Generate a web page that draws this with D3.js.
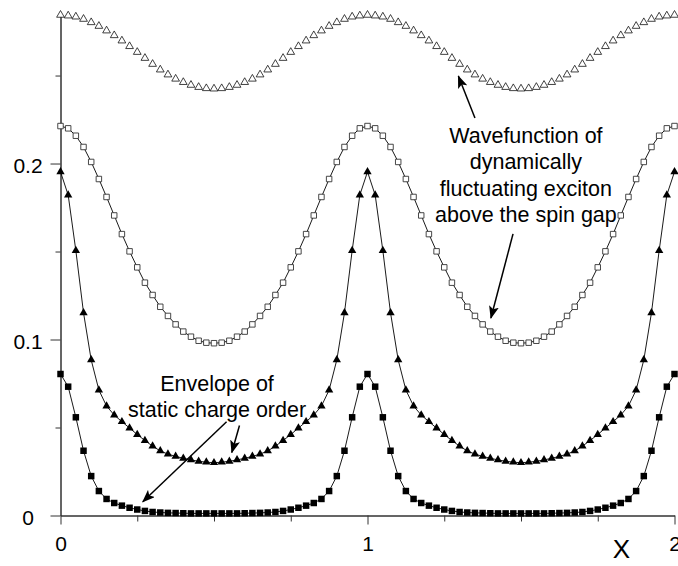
<!DOCTYPE html>
<html>
<head>
<meta charset="utf-8">
<script src="https://cdn.jsdelivr.net/npm/d3@7"></script>
<style>
  body { margin: 0; background: #fff; }
  svg { display: block; }
  text { font-family: "Liberation Sans", Arial, Helvetica, sans-serif; fill: #000; }
</style>
</head>
<body>
<div id="chart"></div>
<script>
// x grid: 81 samples, 0 .. 2
const xStep = 0.025;
const xs = d3.range(81).map(i => i * xStep);

const xTicksMajor = [0, 1, 2];
const xTicksMinor = [0.25, 0.5, 0.75, 1.25, 1.5, 1.75];
const yTicksMajor = [0, 0.1, 0.2];
const yTicksMinor = [0.05, 0.15, 0.25];
const yTickLabels = ['0', '0.1', '0.2'];

// open triangles (top)
const triOpen = [
  0.2844, 0.2840, 0.2834, 0.2821, 0.2802, 0.2781, 0.2755, 0.2728, 0.2698, 0.2666, 0.2633, 0.2599, 0.2565, 0.2533, 0.2505, 0.2481, 0.2462, 0.2446, 0.2434, 0.2427, 0.2425,
  0.2427, 0.2434, 0.2446, 0.2462, 0.2481, 0.2505, 0.2533, 0.2565, 0.2599, 0.2633, 0.2666, 0.2698, 0.2728, 0.2755, 0.2781, 0.2802, 0.2821, 0.2834, 0.2840, 0.2844,
  0.2840, 0.2834, 0.2821, 0.2802, 0.2781, 0.2755, 0.2728, 0.2698, 0.2666, 0.2633, 0.2599, 0.2565, 0.2533, 0.2505, 0.2481, 0.2462, 0.2446, 0.2434, 0.2427, 0.2425,
  0.2427, 0.2434, 0.2446, 0.2462, 0.2481, 0.2505, 0.2533, 0.2565, 0.2599, 0.2633, 0.2666, 0.2698, 0.2728, 0.2755, 0.2781, 0.2802, 0.2821, 0.2834, 0.2840, 0.2844
];

// open squares
const sqOpen = [
  0.2213, 0.2200, 0.2158, 0.2094, 0.2009, 0.1912, 0.1810, 0.1705, 0.1599, 0.1501, 0.1410, 0.1323, 0.1253, 0.1186, 0.1134, 0.1086, 0.1045, 0.1016, 0.0993, 0.0982, 0.0979,
  0.0982, 0.0993, 0.1016, 0.1045, 0.1086, 0.1134, 0.1186, 0.1253, 0.1323, 0.1410, 0.1501, 0.1599, 0.1705, 0.1810, 0.1912, 0.2009, 0.2094, 0.2158, 0.2200, 0.2213,
  0.2200, 0.2158, 0.2094, 0.2009, 0.1912, 0.1810, 0.1705, 0.1599, 0.1501, 0.1410, 0.1323, 0.1253, 0.1186, 0.1134, 0.1086, 0.1045, 0.1016, 0.0993, 0.0982, 0.0979,
  0.0982, 0.0993, 0.1016, 0.1045, 0.1086, 0.1134, 0.1186, 0.1253, 0.1323, 0.1410, 0.1501, 0.1599, 0.1705, 0.1810, 0.1912, 0.2009, 0.2094, 0.2158, 0.2200, 0.2213
];

// filled triangles
const triFilled = [
  0.1953, 0.1821, 0.1505, 0.1152, 0.0884, 0.0713, 0.0622, 0.0571, 0.0533, 0.0497, 0.0460, 0.0426, 0.0394, 0.0367, 0.0349, 0.0336, 0.0325, 0.0316, 0.0308, 0.0303, 0.0300,
  0.0303, 0.0308, 0.0316, 0.0325, 0.0336, 0.0349, 0.0367, 0.0394, 0.0426, 0.0460, 0.0497, 0.0533, 0.0571, 0.0622, 0.0713, 0.0884, 0.1152, 0.1505, 0.1821, 0.1953,
  0.1821, 0.1505, 0.1152, 0.0884, 0.0713, 0.0622, 0.0571, 0.0533, 0.0497, 0.0460, 0.0426, 0.0394, 0.0367, 0.0349, 0.0336, 0.0325, 0.0316, 0.0308, 0.0303, 0.0300,
  0.0303, 0.0308, 0.0316, 0.0325, 0.0336, 0.0349, 0.0367, 0.0394, 0.0426, 0.0460, 0.0497, 0.0533, 0.0571, 0.0622, 0.0713, 0.0884, 0.1152, 0.1505, 0.1821, 0.1953
];

// filled squares
const sqFilled = [
  0.0804, 0.0732, 0.0558, 0.0368, 0.0224, 0.0139, 0.0094, 0.0071, 0.0056, 0.0044, 0.0034, 0.0026, 0.0020, 0.0017, 0.0015, 0.0014, 0.0013, 0.0012, 0.0012, 0.0012, 0.0012,
  0.0012, 0.0012, 0.0012, 0.0013, 0.0014, 0.0015, 0.0017, 0.0020, 0.0026, 0.0034, 0.0044, 0.0056, 0.0071, 0.0094, 0.0139, 0.0224, 0.0368, 0.0558, 0.0732, 0.0804,
  0.0732, 0.0558, 0.0368, 0.0224, 0.0139, 0.0094, 0.0071, 0.0056, 0.0044, 0.0034, 0.0026, 0.0020, 0.0017, 0.0015, 0.0014, 0.0013, 0.0012, 0.0012, 0.0012, 0.0012,
  0.0012, 0.0012, 0.0012, 0.0013, 0.0014, 0.0015, 0.0017, 0.0020, 0.0026, 0.0034, 0.0044, 0.0056, 0.0071, 0.0094, 0.0139, 0.0224, 0.0368, 0.0558, 0.0732, 0.0804
];

const width = 678, height = 566;

const svg = d3.select('#chart').append('svg')
  .attr('width', width)
  .attr('height', height);

const x = d3.scaleLinear().domain([0, 2]).range([60.5, 674.5]);
const y = d3.scaleLinear().domain([0, 0.2844]).range([515.5, 15]);

const fontFam = '"Liberation Sans", Arial, Helvetica, sans-serif';

// arrow head
svg.append('defs').append('marker')
  .attr('id', 'arrow')
  .attr('viewBox', '0 0 13 10')
  .attr('refX', 12)
  .attr('refY', 5)
  .attr('markerWidth', 13)
  .attr('markerHeight', 10)
  .attr('markerUnits', 'userSpaceOnUse')
  .attr('orient', 'auto')
  .append('path')
  .attr('d', 'M0,0 L13,5 L0,10 L3,5 Z')
  .attr('fill', '#000');

// axes
const styleAxis = g => {
  g.attr('font-family', fontFam).attr('font-size', 21);
  g.selectAll('.domain').attr('stroke', '#333');
  g.selectAll('.tick line').attr('stroke', '#333');
  g.selectAll('.tick text').attr('fill', '#000');
};

svg.append('g')
  .attr('transform', `translate(0,${y(0)})`)
  .call(d3.axisBottom(x).tickValues(xTicksMinor).tickSize(6).tickSizeOuter(0).tickFormat(''))
  .call(styleAxis);

svg.append('g')
  .attr('transform', `translate(0,${y(0)})`)
  .call(d3.axisBottom(x).tickValues(xTicksMajor).tickSize(9).tickSizeOuter(0).tickPadding(12).tickFormat(d3.format('d')))
  .call(styleAxis);

svg.append('g')
  .attr('transform', `translate(${x(0)},0)`)
  .call(d3.axisLeft(y).tickValues(yTicksMinor).tickSize(5).tickSizeOuter(0).tickFormat(''))
  .call(styleAxis);

const yAx = svg.append('g')
  .attr('transform', `translate(${x(0)},0)`)
  .call(d3.axisLeft(y).tickValues(yTicksMajor).tickSize(10).tickSizeOuter(0)
    .tickFormat((d, i) => yTickLabels[i]))
  .call(styleAxis);

yAx.selectAll('.tick text')
  .attr('text-anchor', 'middle')
  .attr('x', -32.5)
  .attr('dy', '0.45em');

svg.append('text')
  .attr('x', 621.5)
  .attr('y', 558)
  .attr('text-anchor', 'middle')
  .attr('font-size', 26)
  .text('X');

// connecting lines
const line = d3.line().x((d, i) => x(xs[i])).y(d => y(d));

[sqOpen, triFilled, sqFilled].forEach(s => {
  svg.append('path')
    .datum(s)
    .attr('d', line)
    .attr('fill', 'none')
    .attr('stroke', '#000')
    .attr('stroke-width', 0.9);
});

const drawMarkers = (data, type, size, fill, stroke, sw) => {
  svg.append('g')
    .selectAll('path')
    .data(data)
    .enter()
    .append('path')
    .attr('transform', (d, i) => `translate(${x(xs[i])},${y(d)})`)
    .attr('d', d3.symbol().type(type).size(size))
    .attr('fill', fill)
    .attr('stroke', stroke)
    .attr('stroke-width', sw);
};

drawMarkers(triOpen, d3.symbolTriangle, 26, '#fff', '#111', 0.8);
drawMarkers(sqOpen, d3.symbolSquare, 30, '#fff', '#333', 0.9);
drawMarkers(triFilled, d3.symbolTriangle, 30, '#000', 'none', 0);
drawMarkers(sqFilled, d3.symbolSquare, 42, '#000', 'none', 0);

// annotations (in data units)
const arrows = [
  [[1.350, 0.2259], [1.296, 0.2497]],
  [[1.474, 0.1600], [1.402, 0.1122]],
  [[0.541, 0.0533], [0.268, 0.0078]],
  [[0.583, 0.0511], [0.558, 0.0358]]
];

arrows.forEach(a => {
  svg.append('line')
    .attr('x1', x(a[0][0])).attr('y1', y(a[0][1]))
    .attr('x2', x(a[1][0])).attr('y2', y(a[1][1]))
    .attr('stroke', '#000')
    .attr('stroke-width', 1.5)
    .attr('marker-end', 'url(#arrow)');
});

const notes = [
  { x: 1.516, y: 0.2117, lines: ['Wavefunction of', 'dynamically', 'fluctuating exciton', 'above the spin gap'] },
  { x: 0.510, y: 0.0708, lines: ['Envelope of', 'static charge order'] }
];

notes.forEach(n => {
  const t = svg.append('text')
    .attr('x', x(n.x))
    .attr('y', y(n.y))
    .attr('text-anchor', 'middle')
    .attr('font-size', 21.5);
  n.lines.forEach((l, i) => {
    t.append('tspan')
      .attr('x', x(n.x))
      .attr('dy', i === 0 ? 0 : 26.3)
      .text(l);
  });
});
</script>
</body>
</html>
